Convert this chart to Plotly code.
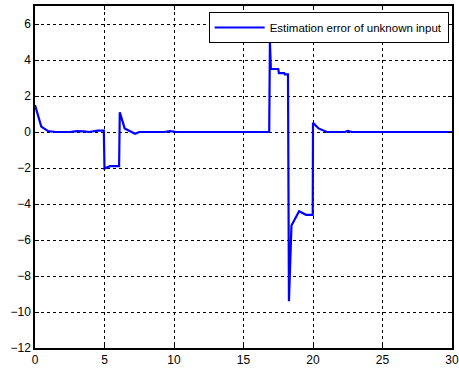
import plotly.graph_objects as go

# Data
t = [0.0, 0.45, 0.95, 1.5, 2.5, 3.0, 3.5, 3.9, 4.5, 4.95,
     5.0, 5.4, 6.05,
     6.1, 6.45, 7.0, 7.2, 7.5, 9.3, 9.7, 10.2,
     16.85,
     16.9, 16.97, 17.5, 17.55, 17.93, 17.97, 18.2,
     18.27, 18.45, 19.0, 19.5, 19.98,
     20.0, 20.4, 21.0, 22.3, 22.5, 22.8, 30.0]
err = [1.5, 0.3, 0.05, 0.0, 0.0, 0.05, 0.03, 0.0, 0.08, 0.08,
       -2.03, -1.9, -1.9,
       1.1, 0.2, -0.05, -0.1, 0.0, 0.0, 0.05, 0.0,
       0.0,
       5.0, 3.5, 3.5, 3.27, 3.27, 3.2, 3.2,
       -9.4, -5.2, -4.4, -4.6, -4.6,
       0.52, 0.2, 0.0, 0.0, 0.06, 0.0, 0.0]

x_ticks = [0, 5, 10, 15, 20, 25, 30]
y_ticks = [-12, -10, -8, -6, -4, -2, 0, 2, 4, 6]
series_name = "Estimation error of unknown input"

fig = go.Figure()
fig.add_trace(go.Scatter(x=t, y=err, mode="lines", name=series_name,
                         line=dict(color="#0000ff", width=2.2)))

axis_common = dict(
    showgrid=True, gridcolor="black", griddash="dot", gridwidth=1,
    showline=True, linecolor="black", linewidth=1.5, mirror="ticks",
    ticks="inside", ticklen=4, tickcolor="black", zeroline=False,
    automargin=False,
    tickfont=dict(family="Liberation Sans, Arial", size=12, color="black"),
)
fig.update_xaxes(range=[0, 30], tickvals=x_ticks, **axis_common)
fig.update_yaxes(range=[-12, 7], tickvals=y_ticks, **axis_common)

fig.update_layout(
    width=459, height=369,
    margin=dict(l=35, r=7, t=6, b=21, autoexpand=False),
    paper_bgcolor="white", plot_bgcolor="white",
    showlegend=True,
    legend=dict(x=0.992, y=0.9825, xanchor="right", yanchor="top",
                bgcolor="white", bordercolor="black", borderwidth=1,
                font=dict(family="Liberation Sans, Arial", size=11.5, color="black"),
                tracegroupgap=0, itemwidth=50),
)

fig.write_html("out.html", config={"displayModeBar": False},
               post_script="document.body.style.margin='0';")
